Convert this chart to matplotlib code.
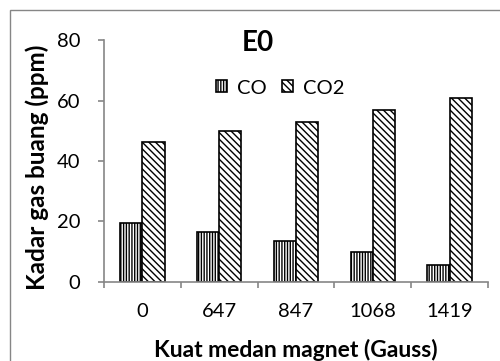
import matplotlib
matplotlib.use('Agg')
import matplotlib.pyplot as plt
from matplotlib.patches import Rectangle
import numpy as np

# values
categories = ['0', '647', '847', '1068', '1419']
co_values = [19.5, 16.5, 13.5, 9.8, 5.7]
co2_values = [46.3, 50.0, 53.0, 56.8, 61.0]

plt.rcParams['font.family'] = ['Lato', 'DejaVu Sans']
plt.rcParams['hatch.linewidth'] = 1.0

fig = plt.figure(figsize=(5.0, 3.61), dpi=100)
ax = fig.add_axes([0.208, 0.219, 0.768, 0.670])

x = np.arange(len(categories))
w = 0.29
ax.bar(x - w / 2, co_values, w, facecolor='white', edgecolor='black',
       hatch='||||||', linewidth=1.2, label='CO')
ax.bar(x + w / 2, co2_values, w, facecolor='white', edgecolor='black',
       hatch='\\\\\\\\\\', linewidth=1.2, label='CO2')

ax.set_xlim(-0.5, len(categories) - 0.5)
ax.set_ylim(0, 80)
ax.set_yticks([0, 20, 40, 60, 80])
ax.set_xticks(x)
ax.set_xticklabels(categories)
ax.set_xticks(np.arange(-0.5, len(categories)), minor=True)

gray = '#868686'
for s in ['top', 'right']:
    ax.spines[s].set_visible(False)
for s in ['left', 'bottom']:
    ax.spines[s].set_color(gray)
    ax.spines[s].set_linewidth(1.2)

ax.tick_params(axis='x', which='major', length=0, pad=15, labelsize=14.5)
ax.tick_params(axis='x', which='minor', length=4, width=1.2, color=gray)
ax.tick_params(axis='y', length=4, width=1.2, color=gray, pad=13, labelsize=14.5)

ax.set_xlabel('Kuat medan magnet (Gauss)', fontsize=16.5, fontweight='bold', va='center')
ax.xaxis.set_label_coords(0.5, -0.28)
ax.set_ylabel('Kadar gas buang (ppm)', fontsize=17.5, fontweight='bold', va='center')
ax.yaxis.set_label_coords(-0.175, 0.475)

fig.text(0.516, 1 - 43 / 361, 'E0', fontsize=20, fontweight='bold', ha='center', va='center')

ax.legend(loc='center', bbox_to_anchor=((280 - 104) / 384, (282 - 88) / 242), ncol=2,
          frameon=False, fontsize=14.5, handlelength=0.55, handleheight=0.55,
          handletextpad=0.5, columnspacing=0.75, borderpad=0)

# chart area border (cropped at right and bottom in the reference)
fig.patches.append(Rectangle((10 / 500, -0.2), 1.2, 1.2 - 10 / 361,
                             transform=fig.transFigure, fill=False,
                             edgecolor=gray, linewidth=1.0))

fig.savefig('out.png', dpi=100)
